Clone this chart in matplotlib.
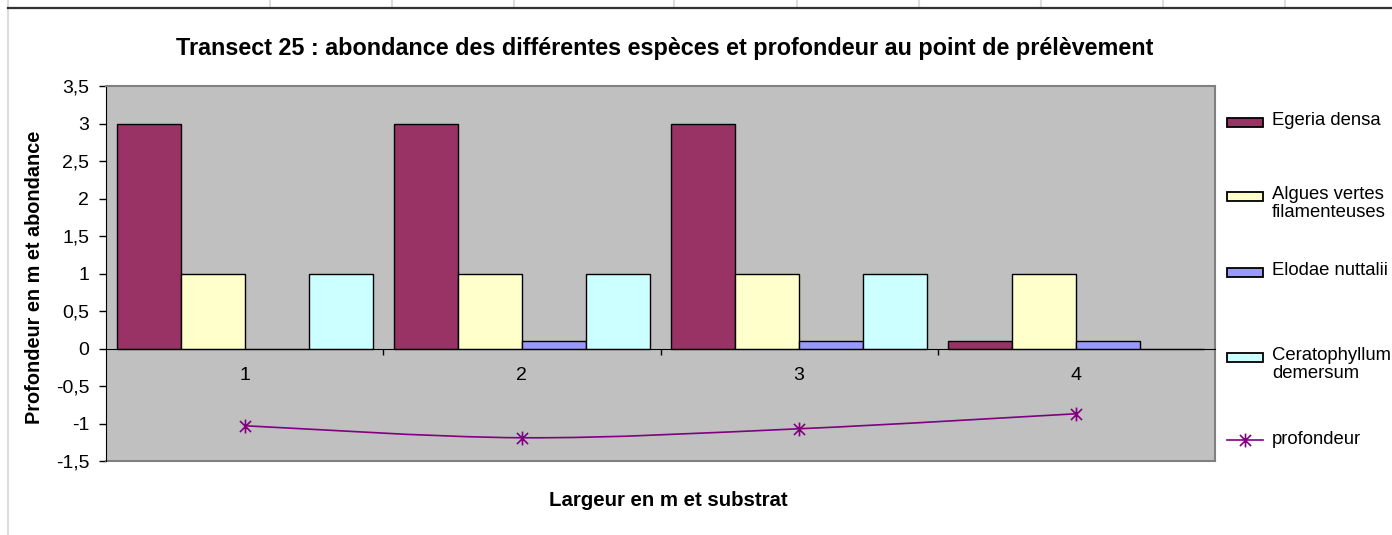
import matplotlib
matplotlib.use('Agg')
import matplotlib.pyplot as plt
from matplotlib.path import Path
from matplotlib.patches import PathPatch, Rectangle
from matplotlib.lines import Line2D
import numpy as np

plt.rcParams['font.family'] = ['Liberation Sans', 'DejaVu Sans']

# data
categories = ['1', '2', '3', '4']
egeria = [3, 3, 3, 0.1]
algues = [1, 1, 1, 1]
elodea = [0, 0.1, 0.1, 0.1]
cerato = [1, 1, 1, 0]
profondeur = [-1.03, -1.19, -1.07, -0.87]
yticks = [-1.5, -1, -0.5, 0, 0.5, 1, 1.5, 2, 2.5, 3, 3.5]
ytick_labels = ['-1,5', '-1', '-0,5', '0', '0,5', '1', '1,5', '2', '2,5', '3', '3,5']

series = [('Egeria densa', egeria, '#993366'),
          ('Algues vertes\nfilamenteuses', algues, '#FFFFCC'),
          ('Elodae nuttalii', elodea, '#9999FF'),
          ('Ceratophyllum\ndemersum', cerato, '#CCFFFF')]

W, H = 1392, 535
fig = plt.figure(figsize=(W / 100, H / 100), dpi=100)

# spreadsheet grid behind the chart
for gx in [270, 392, 514, 674, 797, 919, 1041, 1163, 1285]:
    fig.add_artist(Line2D([gx / W, gx / W], [1, 1 - 7 / H], color='#DDDDDD', lw=1.5))
fig.add_artist(Line2D([8 / W, 8 / W], [0, 1], color='#DDDDDD', lw=1.5))
fig.add_artist(Line2D([8 / W, 1], [1 - 7.5 / H, 1 - 7.5 / H], color='#333333', lw=1.6))

ax = fig.add_axes([106 / W, 74 / H, (1215 - 106) / W, (461 - 86) / H])
ax.set_facecolor('#C0C0C0')

x = np.arange(len(categories))
w = 0.2308
for i, (name, vals, col) in enumerate(series):
    ax.bar(x + (i - 1.5) * w, vals, width=w, color=col, edgecolor='black', linewidth=1.0, zorder=2)

# smoothed depth line (Bezier through the points, like Excel)
pts = np.column_stack([x, profondeur]).astype(float)
ext = np.vstack([pts[0], pts, pts[-1]])
verts = [tuple(pts[0])]
codes = [Path.MOVETO]
for i in range(len(pts) - 1):
    p0, p1, p2, p3 = ext[i], ext[i + 1], ext[i + 2], ext[i + 3]
    c1 = p1 + (p2 - p0) / 6
    c2 = p2 - (p3 - p1) / 6
    verts += [tuple(c1), tuple(c2), tuple(p2)]
    codes += [Path.CURVE4] * 3
ax.add_patch(PathPatch(Path(verts, codes), fill=False, edgecolor='#800080', lw=1.2, zorder=3))

star = Path([(0, -1), (0, 1), (-0.8, -0.8), (0.8, 0.8), (-0.8, 0.8), (0.8, -0.8)],
            [Path.MOVETO, Path.LINETO] * 3)
ax.plot(x, profondeur, linestyle='none', marker=star, ms=10, mec='#800080', mew=1.2, zorder=4)

ax.set_xlim(-0.5, 3.5)
ax.set_ylim(-1.5, 3.5)
ax.set_yticks(yticks)
ax.set_yticklabels(ytick_labels)
ax.set_xticks(x)
ax.set_xticklabels(categories)
ax.set_xticks([0.5, 1.5, 2.5], minor=True)
ax.tick_params(axis='x', which='major', length=0, pad=13, labelsize=14)
ax.tick_params(axis='x', which='minor', length=4, width=1, direction='out')
ax.tick_params(axis='y', length=5, width=1, direction='out', pad=7, labelsize=14)

ax.spines['bottom'].set_position(('data', 0))
ax.spines['bottom'].set_color('black')
ax.spines['bottom'].set_zorder(5)
ax.spines['left'].set_color('black')
for s in ['top', 'right']:
    ax.spines[s].set_color('#808080')
    ax.spines[s].set_linewidth(1.5)
# bottom border of the plot area
ax.add_artist(Line2D([0, 1], [0, 0], transform=ax.transAxes, color='#808080', lw=1.5, clip_on=False))

fig.text(665 / W, 1 - 48 / H, 'Transect 25 : abondance des différentes espèces et profondeur au point de prélèvement',
         ha='center', va='center', fontsize=16.8, fontweight='bold')
fig.text(35 / W, 1 - 277 / H, 'Profondeur en m et abondance', rotation=90,
         ha='center', va='center', fontsize=14.3, fontweight='bold')
fig.text(668 / W, 1 - 501 / H, 'Largeur en m et substrat', ha='center', va='center',
         fontsize=14.7, fontweight='bold')

# legend drawn at Excel's positions
leg_y = [122, 196, 272, 357]
for (name, vals, col), yy in zip(series, leg_y):
    fig.add_artist(Rectangle((1227 / W, 1 - (yy + 4.5) / H), 36 / W, 9 / H,
                             facecolor=col, edgecolor='black', lw=1.3))
    fig.text(1272 / W, 1 - (yy - 10) / H, name, ha='left', va='top', fontsize=13.3, linespacing=1.1)
fig.add_artist(Line2D([1227 / W, 1263 / W], [1 - 440 / H] * 2, color='#800080', lw=1.2))
fig.add_artist(Line2D([1245 / W], [1 - 440 / H], marker=star, ms=10, mec='#800080', mew=1.2, linestyle='none'))
fig.text(1272 / W, 1 - 440 / H, 'profondeur', ha='left', va='center', fontsize=13.3)

fig.savefig('out.png', dpi=100)
